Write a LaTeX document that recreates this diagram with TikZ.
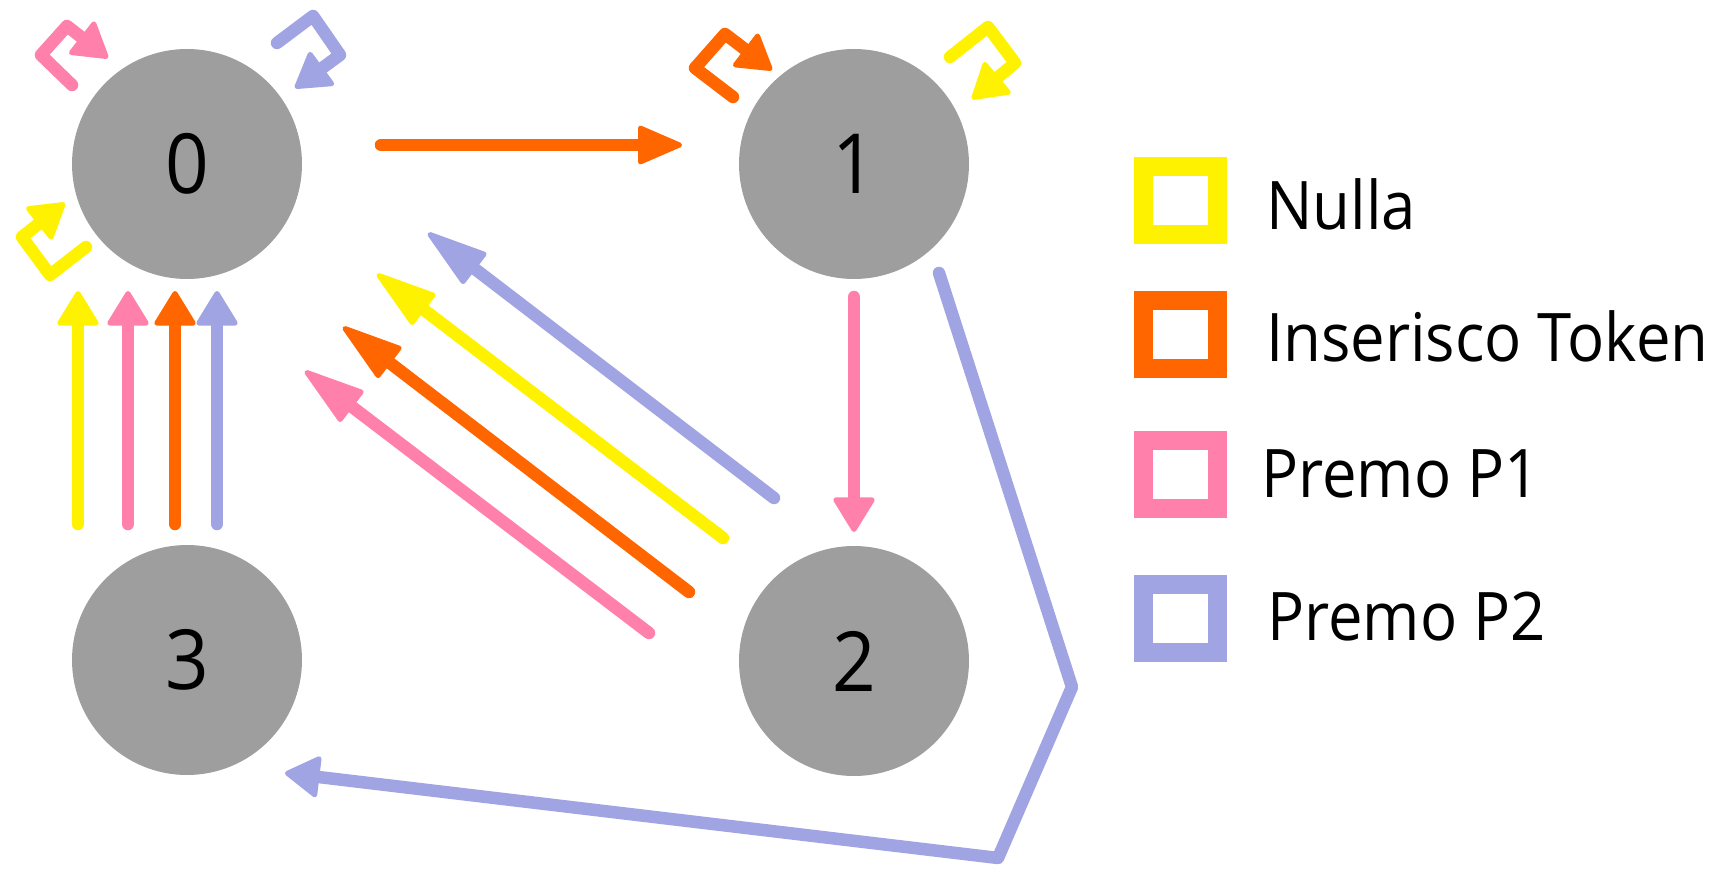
\documentclass[tikz,border=0pt]{standalone}
\usepackage{fontspec}
\setmainfont{Open Sans}[FakeStretch=0.92]
\usetikzlibrary{arrows.meta}
\definecolor{cYel}{HTML}{FFF200}
\definecolor{cOra}{HTML}{FF6600}
\definecolor{cPnk}{HTML}{FF80AA}
\definecolor{cBlu}{HTML}{A0A4E2}
\definecolor{cGry}{HTML}{9E9E9E}
\begin{document}
\begin{tikzpicture}[x=1pt,y=-1pt,
  state/.style={circle, fill=cGry, minimum size=230pt, inner sep=0pt,
    font=\fontsize{83}{100}\selectfont},
  wire/.style={line width=12.5pt, line cap=round, line join=round, draw=#1},
  tipped/.style={-{Triangle[length=37pt,width=44pt,line width=5pt,round]}},
  midtip/.style={-{Triangle[length=48pt,width=40pt,line width=5pt,round]}},
  longtip/.style={-{Triangle[length=66pt,width=40pt,line width=5pt,round]}},
  legbox/.style={draw=#1, line width=19pt, minimum width=74pt,
    minimum height=68pt, inner sep=0pt},
  legtext/.style={anchor=base west, inner sep=0pt,
    font=\fontsize{67}{80}\selectfont}]
\useasboundingbox (0,0) rectangle (1722,869);

% states
\node[state] (n0) at (187,164) {0};
\node[state] (n1) at (854,164) {1};
\node[state] (n2) at (854,661) {2};
\node[state] (n3) at (187,660) {3};

% 0 -> 1
\coordinate (a01s) at (381,145);
\coordinate (a01t) at (682,145);
\draw[wire=cOra, midtip] (a01s) -- (a01t);

% 1 -> 2
\coordinate (a12s) at (854,297);
\coordinate (a12t) at (854,532);
\draw[wire=cPnk, tipped] (a12s) -- (a12t);

% 3 -> 0, four inputs
\coordinate (a30ys) at (78,524);  \coordinate (a30yt) at (78,291);
\coordinate (a30ps) at (128,524); \coordinate (a30pt) at (128,291);
\coordinate (a30os) at (175,524); \coordinate (a30ot) at (175,291);
\coordinate (a30bs) at (217,524); \coordinate (a30bt) at (217,291);
\draw[wire=cYel, tipped] (a30ys) -- (a30yt);
\draw[wire=cPnk, tipped] (a30ps) -- (a30pt);
\draw[wire=cOra, tipped] (a30os) -- (a30ot);
\draw[wire=cBlu, tipped] (a30bs) -- (a30bt);

% 2 -> 0, four inputs
\coordinate (a20bs) at (774,498); \coordinate (a20bt) at (428,233);
\coordinate (a20ys) at (723,538); \coordinate (a20yt) at (377,274);
\coordinate (a20os) at (689,592); \coordinate (a20ot) at (343,327);
\coordinate (a20ps) at (649,633); \coordinate (a20pt) at (305,371);
\draw[wire=cBlu, longtip] (a20bs) -- (a20bt);
\draw[wire=cYel, longtip] (a20ys) -- (a20yt);
\draw[wire=cOra, longtip] (a20os) -- (a20ot);
\draw[wire=cPnk, longtip] (a20ps) -- (a20pt);

% 1 -> 3 (Premo P2), around state 2
\coordinate (a13s) at (939,273);
\coordinate (a13c1) at (1072,687);
\coordinate (a13c2) at (998,858);
\coordinate (a13t) at (285,773);
\draw[wire=cBlu, tipped] (a13s) -- (a13c1) -- (a13c2) -- (a13t);

% self loops on state 0
\coordinate (l0pS) at (72,85);  \coordinate (l0pA) at (41,55);
\coordinate (l0pB) at (67,26);  \coordinate (l0pT) at (108,58);
\draw[wire=cPnk, tipped] (l0pS) -- (l0pA) -- (l0pB) -- (l0pT);
\coordinate (l0bS) at (277,43); \coordinate (l0bA) at (313,16);
\coordinate (l0bB) at (340,55); \coordinate (l0bT) at (295,88);
\draw[wire=cBlu, tipped] (l0bS) -- (l0bA) -- (l0bB) -- (l0bT);
\coordinate (l0yS) at (86,247); \coordinate (l0yA) at (50,275);
\coordinate (l0yB) at (22,237); \coordinate (l0yT) at (65,203);
\draw[wire=cYel, tipped] (l0yS) -- (l0yA) -- (l0yB) -- (l0yT);

% self loops on state 1
\coordinate (l1oS) at (733,97); \coordinate (l1oA) at (695,68);
\coordinate (l1oB) at (725,34); \coordinate (l1oT) at (772,70);
\draw[wire=cOra, tipped] (l1oS) -- (l1oA) -- (l1oB) -- (l1oT);
\coordinate (l1yS) at (950,57); \coordinate (l1yA) at (988,27);
\coordinate (l1yB) at (1015,63); \coordinate (l1yT) at (972,99);
\draw[wire=cYel, tipped] (l1yS) -- (l1yA) -- (l1yB) -- (l1yT);

% legend
\node[legbox=cYel] (kY) at (1180.5,200.5) {};
\node[legbox=cOra] (kO) at (1180.5,334) {};
\node[legbox=cPnk] (kP) at (1180.5,474) {};
\node[legbox=cBlu] (kB) at (1180.5,618) {};
\node[legtext] (tY) at (1266,230) {Nulla};
\node[legtext] (tO) at (1266,361) {Inserisco Token};
\node[legtext] (tP) at (1261,497) {Premo P1};
\node[legtext] (tB) at (1267,640) {Premo P2};
\end{tikzpicture}
\end{document}
